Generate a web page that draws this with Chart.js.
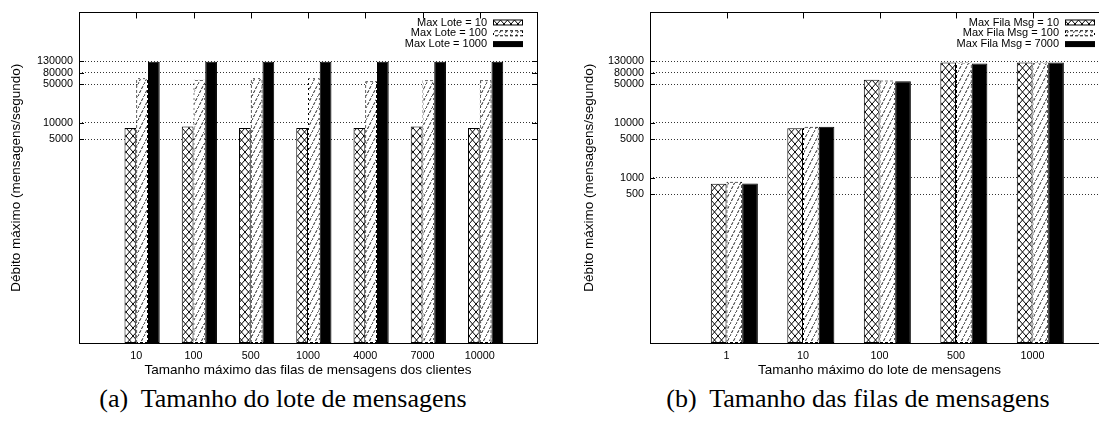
<!DOCTYPE html>
<html lang="pt">
<head>
<meta charset="UTF-8">
<title>Débito máximo</title>
<style>
  html, body { margin: 0; padding: 0; background: #fff; overflow: hidden; width: 1099px; height: 423px; }
  .box { position: absolute; top: 0; height: 378px; }
  #boxA { left: 0; width: 550px; }
  #boxB { left: 550px; width: 575px; }
  .caption {
    position: absolute; top: 386px; line-height: 1;
    font-family: "Liberation Serif", "Times New Roman", serif; font-size: 26px;
    white-space: nowrap; transform: translateX(-50%); color: #000;
  }
</style>
</head>
<body>
<div class="box" id="boxA"><canvas id="chartA"></canvas></div>
<div class="box" id="boxB"><canvas id="chartB"></canvas></div>
<div class="caption" style="left:283px">(a)&nbsp; Tamanho do lote de mensagens</div>
<div class="caption" style="left:858px">(b)&nbsp; Tamanho das filas de mensagens</div>

<script src="https://cdn.jsdelivr.net/npm/chart.js"></script>
<script>
// (a) x = tamanho maximo das filas, series = tamanho do lote
var filaCats = ["10", "100", "500", "1000", "4000", "7000", "10000"];
var lote10 = [8000, 8500, 8000, 8000, 8000, 8500, 8000];
var lote100 = [64000, 60000, 64000, 64000, 56500, 59000, 59000];
var lote1000 = [127000, 127000, 127000, 127000, 127000, 127000, 127000];
var ticksA = [5000, 10000, 50000, 80000, 130000];

// (b) x = tamanho maximo do lote, series = tamanho da fila
var loteCats = ["1", "10", "100", "500", "1000"];
var fila10 = [780, 7900, 60000, 123000, 123000];
var fila100 = [850, 8400, 58000, 123000, 123000];
var fila7000 = [790, 8400, 56500, 118000, 123000];
var ticksB = [500, 1000, 5000, 10000, 50000, 80000, 130000];

var FONT = '"Liberation Sans", Arial, Helvetica, sans-serif';
Chart.defaults.font.family = FONT;
Chart.defaults.color = '#000';

function tile(w, h, draw) {
    var c = document.createElement('canvas');
    c.width = w;
    c.height = h;
    draw(c.getContext('2d'));
    return c;
}

var crossTile = tile(7, 8, function (g) {
    g.fillStyle = '#fff';
    g.fillRect(0, 0, 7, 8);
    g.strokeStyle = '#000';
    g.lineWidth = 1;
    g.beginPath();
    g.moveTo(-0.875, -1); g.lineTo(7.875, 9);
    g.moveTo(7.875, -1); g.lineTo(-0.875, 9);
    g.stroke();
});
var hatchTile = tile(6, 12, function (g) {
    g.fillStyle = '#fff';
    g.fillRect(0, 0, 6, 12);
    g.strokeStyle = '#000';
    g.lineWidth = 0.9;
    g.setLineDash([3, 1.5]);
    g.beginPath();
    g.moveTo(-0.5, 13); g.lineTo(6.5, -1);
    g.stroke();
});
// checker tile, used as border colour -> dashed edges
var dashTile = tile(5, 5, function (g) {
    g.fillStyle = '#000';
    g.fillRect(0, 0, 3, 3);
    g.fillRect(3, 3, 2, 2);
});

function padded(arr) {
    return [null].concat(arr, [null]);
}

// frame, mirrored tics
var framePlugin = {
    id: 'frame',
    afterDatasetsDraw: function (chart) {
        var a = chart.chartArea, ctx = chart.ctx;
        var x = chart.scales.x, y = chart.scales.y;
        ctx.save();
        ctx.strokeStyle = '#000';
        ctx.lineWidth = 1;
        ctx.strokeRect(Math.round(a.left) + 0.5, Math.round(a.top) + 0.5,
            Math.round(a.right - a.left), Math.round(a.bottom - a.top));
        ctx.beginPath();
        x.ticks.forEach(function (t, i) {
            if (!t.label) return;
            var px = Math.round(x.getPixelForTick(i)) + 0.5;
            ctx.moveTo(px, a.top);
            ctx.lineTo(px, a.top + 6);
        });
        y.ticks.forEach(function (t) {
            var py = Math.round(y.getPixelForValue(t.value)) + 0.5;
            ctx.moveTo(a.left, py); ctx.lineTo(a.left + 5, py);
            ctx.moveTo(a.right, py); ctx.lineTo(a.right - 5, py);
        });
        ctx.stroke();
        ctx.restore();
    }
};

// gnuplot style key, top right inside the plot
var keyPlugin = {
    id: 'key',
    afterDraw: function (chart) {
        var a = chart.chartArea, ctx = chart.ctx;
        var right = a.right - 14, w = 30, h = 6;
        var rows = chart.data.datasets.filter(function (d) { return !d.spacer; });
        ctx.save();
        ctx.font = '11px ' + FONT;
        ctx.textAlign = 'right';
        ctx.textBaseline = 'middle';
        rows.forEach(function (d, i) {
            var cy = a.top + 10 + i * 10.8;
            ctx.fillStyle = '#000';
            ctx.fillText(d.label, right - w - 6, cy);
            ctx.fillStyle = d.borderColor;
            ctx.fillRect(right - w, cy - h / 2, w, h);
            ctx.fillStyle = d.backgroundColor;
            ctx.fillRect(right - w + 1, cy - h / 2 + 1, w - 2, h - 2);
        });
        ctx.restore();
    }
};

function makeChart(id, cats, series, names, yTicks, xTitle, opts) {
    var ctx = document.getElementById(id).getContext('2d');
    var cross = ctx.createPattern(crossTile, 'repeat');
    var hatch = ctx.createPattern(hatchTile, 'repeat');
    var dash = ctx.createPattern(dashTile, 'repeat');
    var fills = [cross, hatch, '#000'];
    var edges = ['#000', dash, '#000'];

    // empty first slot so the tic sits between the 1st and 2nd bar, like gnuplot
    var datasets = [{ label: '', spacer: true, data: padded(cats.map(function () { return null; })) }];
    series.forEach(function (s, i) {
        datasets.push({
            label: names[i],
            data: padded(s),
            backgroundColor: fills[i],
            borderColor: edges[i],
            borderWidth: 1,
            borderSkipped: false,
            categoryPercentage: 0.82,
            barPercentage: 1
        });
    });

    return new Chart(ctx, {
        type: 'bar',
        data: { labels: padded(cats).map(function (c) { return c || ''; }), datasets: datasets },
        options: {
            responsive: true,
            maintainAspectRatio: false,
            animation: false,
            layout: { padding: { left: 0, right: opts.padRight, top: 7, bottom: 0 } },
            plugins: { legend: { display: false }, tooltip: { enabled: false } },
            scales: {
                x: {
                    offset: false,
                    grid: { display: false, drawTicks: false },
                    border: { display: false },
                    ticks: { font: { size: 10.8 }, padding: 7, maxRotation: 0, autoSkip: false },
                    afterFit: function (s) { s.height = 35; },
                    title: { display: true, text: xTitle, font: { size: 13.5 }, padding: 0 }
                },
                y: {
                    type: 'logarithmic',
                    min: 1,
                    max: 1000000,
                    afterBuildTicks: function (s) {
                        s.ticks = yTicks.map(function (v) { return { value: v }; });
                    },
                    afterFit: function (s) { s.width = opts.yWidth; },
                    ticks: {
                        font: { size: 10.8 },
                        padding: 6,
                        autoSkip: false,
                        callback: function (v) { return String(v); }
                    },
                    grid: { color: '#000', lineWidth: 0.8, drawTicks: false },
                    border: { display: false, dash: [1, 2] },
                    title: {
                        display: true,
                        text: 'Débito máximo (mensagens/segundo)',
                        font: { size: 13.5 },
                        padding: { top: opts.yTitlePad, bottom: 0 }
                    }
                }
            }
        },
        plugins: [framePlugin, keyPlugin]
    });
}

makeChart('chartA', filaCats, [lote10, lote100, lote1000],
    ['Max Lote = 10', 'Max Lote = 100', 'Max Lote = 1000'], ticksA,
    'Tamanho máximo das filas de mensagens dos clientes',
    { padRight: 13, yWidth: 79, yTitlePad: 8 });

makeChart('chartB', loteCats, [fila10, fila100, fila7000],
    ['Max Fila Msg = 10', 'Max Fila Msg = 100', 'Max Fila Msg = 7000'], ticksB,
    'Tamanho máximo do lote de mensagens',
    { padRight: 16, yWidth: 100, yTitlePad: 31 });
</script>
</body>
</html>
